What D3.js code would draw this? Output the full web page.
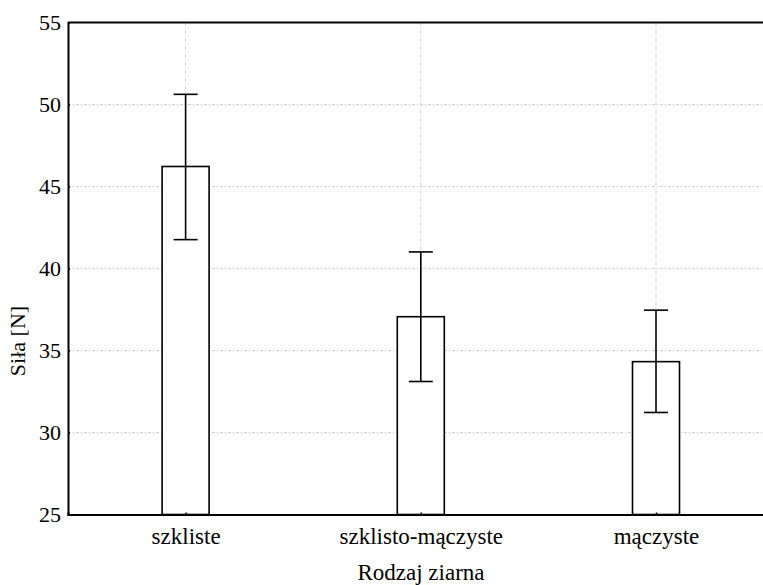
<!DOCTYPE html>
<html><head><meta charset="utf-8">
<script src="https://cdn.jsdelivr.net/npm/d3@7"></script>
<style>body{margin:0;background:#fff}svg{display:block}text{font-family:"Liberation Serif","Times New Roman",serif}</style>
</head><body><svg id="c" width="763" height="585"></svg>
<script>
const categories = ["szkliste", "szklisto-mączyste", "mączyste"];
const means = [46.22, 37.06, 34.32];
const upper = [50.62, 41.01, 37.46];
const lower = [41.76, 33.11, 31.22];
const yTicks = [25, 30, 35, 40, 45, 50, 55];
const xTitle = "Rodzaj ziarna";
const yTitle = "Siła [N]";

const svg = d3.select("#c");
const L = 68, T = 22.5, R = 773.6, B = 514.5;
const font = "Liberation Serif, Times New Roman, serif";

const x = d3.scalePoint().domain(categories).range([L, R]).padding(0.5);
const y = d3.scaleLinear().domain([25, 55]).range([B, T]);

// grid
const g = svg.append("g");
g.selectAll(".hg").data(yTicks.filter(v => v > 25 && v < 55)).enter().append("line")
  .attr("x1", L).attr("x2", R).attr("y1", d => y(d)).attr("y2", d => y(d))
  .attr("stroke", "#cfcfcf").attr("stroke-width", 1).attr("stroke-dasharray", "3,2,1,2");
g.selectAll(".vg").data(categories).enter().append("line")
  .attr("x1", d => x(d)).attr("x2", d => x(d)).attr("y1", T).attr("y2", B)
  .attr("stroke", "#cfcfcf").attr("stroke-width", 1).attr("stroke-dasharray", "3,2,1,2");

// bars
const bw = 47;
svg.selectAll(".bar").data(categories).enter().append("rect")
  .attr("x", d => x(d) - bw / 2).attr("width", bw)
  .attr("y", (d, i) => y(means[i])).attr("height", (d, i) => B - y(means[i]))
  .attr("fill", "#fff").attr("stroke", "#000").attr("stroke-width", 1.6);

// error bars
const cw = 24;
const eb = svg.append("g").attr("stroke", "#000").attr("stroke-width", 1.6);
categories.forEach((c, i) => {
  eb.append("line").attr("x1", x(c)).attr("x2", x(c)).attr("y1", y(lower[i])).attr("y2", y(upper[i]));
  eb.append("line").attr("x1", x(c) - cw / 2).attr("x2", x(c) + cw / 2).attr("y1", y(upper[i])).attr("y2", y(upper[i]));
  eb.append("line").attr("x1", x(c) - cw / 2).attr("x2", x(c) + cw / 2).attr("y1", y(lower[i])).attr("y2", y(lower[i]));
});

// axes
const ya = svg.append("g").attr("transform", `translate(${L},0)`)
  .call(d3.axisLeft(y).tickValues(yTicks).tickSize(-2).tickPadding(7));
const xa = svg.append("g").attr("transform", `translate(0,${B})`)
  .call(d3.axisBottom(x).tickSize(-2).tickPadding(10));
[ya, xa].forEach(a => {
  a.attr("font-family", null).attr("font-size", null);
  a.select(".domain").attr("stroke", "#000").attr("stroke-width", 2);
  a.selectAll(".tick line").attr("stroke", "#000").attr("stroke-width", 1.5);
  a.selectAll("text").style("font-family", font).style("font-size", "22px").attr("fill", "#000");
});
ya.selectAll("text").attr("dy", "0.34em");
xa.selectAll("text").style("font-size", "23px").attr("dy", "0.85em");

// top frame
svg.append("line").attr("x1", L).attr("x2", R).attr("y1", T).attr("y2", T)
  .attr("stroke", "#000").attr("stroke-width", 2);

// titles
svg.append("text").attr("x", 421).attr("y", 580)
  .attr("text-anchor", "middle").style("font-family", font).style("font-size", "23px").text(xTitle);
svg.append("text").attr("transform", `translate(25,${341}) rotate(-90)`)
  .attr("text-anchor", "middle").style("font-family", font).style("font-size", "22px").text(yTitle);
</script></body></html>
